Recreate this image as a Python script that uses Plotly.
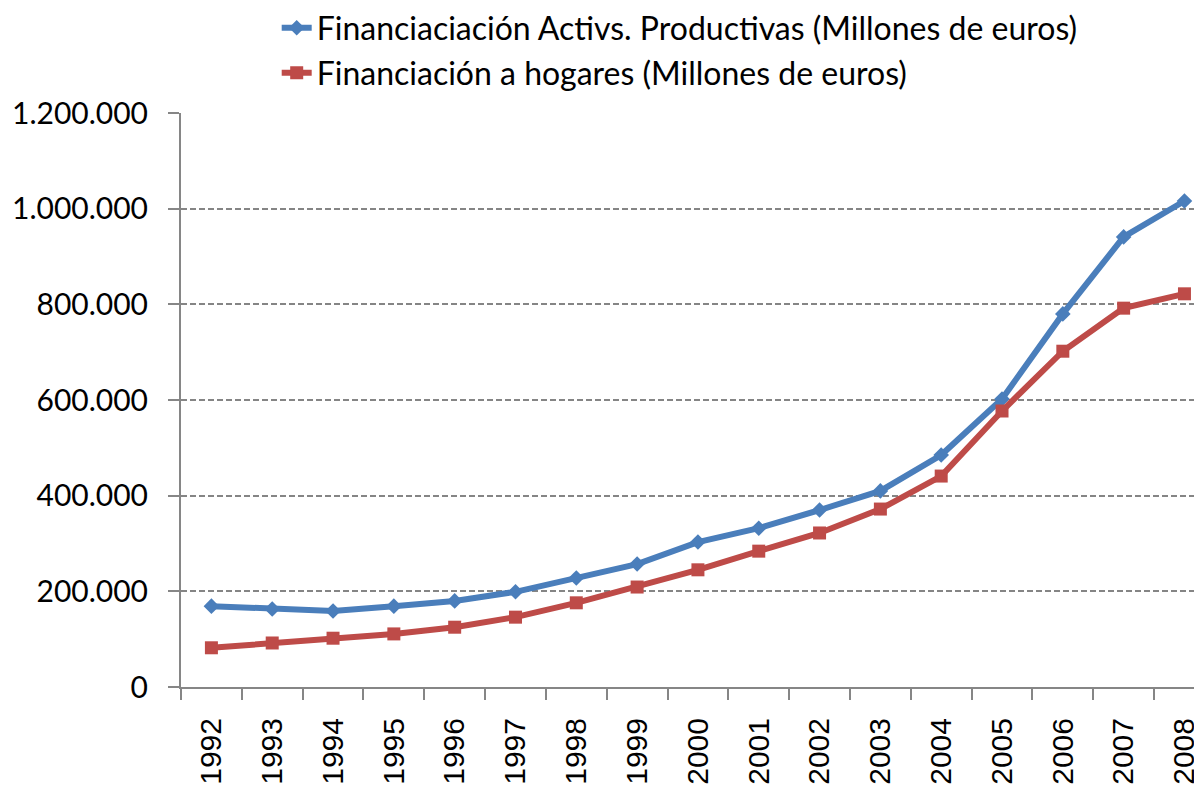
import plotly.graph_objects as go

years = [str(y) for y in range(1992, 2009)]
activos = [169000, 163000, 159000, 169000, 180000, 199000, 228000, 257000, 303000,
           332000, 370000, 410000, 485000, 602000, 780000, 941000, 1016000]
hogares = [82000, 92000, 102000, 111000, 125000, 146000, 176000, 209000, 245000,
           284000, 322000, 372000, 441000, 577000, 702000, 792000, 822000]

fig = go.Figure()
fig.add_trace(go.Scatter(x=years, y=activos, mode='lines+markers',
                         name='Financiaciación Activs. Productivas (Millones de euros)',
                         line=dict(color='#4a7ebb', width=6),
                         marker=dict(symbol='diamond', size=12, color='#4a7ebb'),
                         legend='legend'))
fig.add_trace(go.Scatter(x=years, y=hogares, mode='lines+markers',
                         name='Financiación a hogares (Millones de euros)',
                         line=dict(color='#be4b48', width=6),
                         marker=dict(symbol='square', size=13, color='#be4b48'),
                         legend='legend2'))

# page body adds ~8px offset, so margins are set 8px smaller
plot_h = 792 - 105 - 113
fig.update_layout(
    width=1202, height=792,
    margin=dict(l=173, r=0, t=105, b=113, autoexpand=False),
    paper_bgcolor='white', plot_bgcolor='white',
    font=dict(family='Lato', size=28, color='black'),
    separators=',.',
    showlegend=True,
    legend=dict(x=0.093, y=1 + (105 - 20) / plot_h, xanchor='left', yanchor='middle',
                font=dict(size=32), bgcolor='rgba(0,0,0,0)'),
    legend2=dict(x=0.093, y=1 + (105 - 65) / plot_h, xanchor='left', yanchor='middle',
                 font=dict(size=32), bgcolor='rgba(0,0,0,0)'),
)
fig.update_xaxes(type='category', range=[-0.5, 16.42], showgrid=False, automargin=False,
                 showline=True, linecolor='#868686', linewidth=2,
                 ticks='outside', tickson='boundaries', ticklen=11,
                 tickcolor='#868686', tickwidth=2, tickangle=-90,
                 ticklabelstandoff=17,
                 tickfont=dict(family='Liberation Sans', size=30))
fig.update_yaxes(range=[0, 1200000], dtick=200000, tickformat=',d', automargin=False,
                 showgrid=True, gridcolor='#858585', griddash='6px,3px', gridwidth=2,
                 showline=True, linecolor='#868686', linewidth=2,
                 ticks='outside', ticklen=11, tickcolor='#868686', tickwidth=2,
                 ticklabelstandoff=14,
                 zeroline=False, tickfont=dict(size=30))

fig.write_html("out.html")
